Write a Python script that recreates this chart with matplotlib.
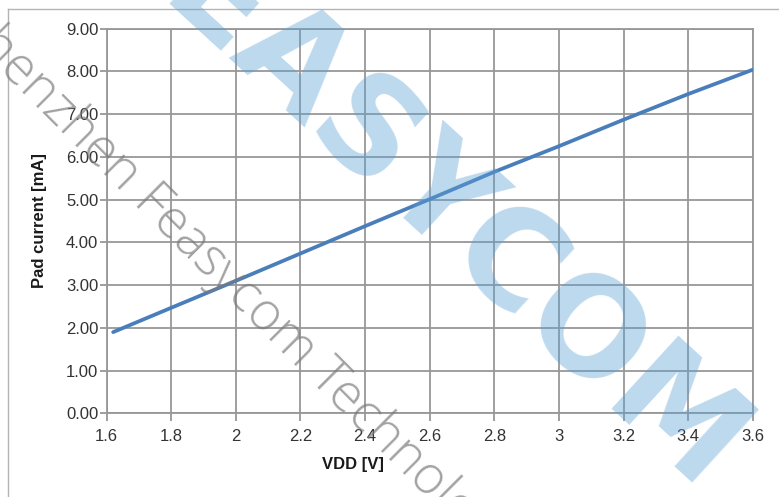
import matplotlib
matplotlib.use('Agg')
import matplotlib.pyplot as plt
from matplotlib.lines import Line2D

# values
vdd = [1.62, 1.8, 2.0, 2.2, 2.4, 2.6, 2.8, 3.0, 3.2, 3.4, 3.6]
current = [1.90, 2.47, 3.10, 3.74, 4.38, 5.01, 5.65, 6.25, 6.87, 7.47, 8.04]
xticks = [1.6, 1.8, 2.0, 2.2, 2.4, 2.6, 2.8, 3.0, 3.2, 3.4, 3.6]
xtick_labels = ['1.6', '1.8', '2', '2.2', '2.4', '2.6', '2.8', '3', '3.2', '3.4', '3.6']
yticks = [0, 1, 2, 3, 4, 5, 6, 7, 8, 9]

W, H = 779, 497
plt.rcParams['font.family'] = ['Liberation Sans', 'DejaVu Sans']

def fx(x):
    return x / W

def fy(y):
    return 1 - y / H

fig = plt.figure(figsize=(W / 100, H / 100), dpi=100)
ax = fig.add_axes([fx(106.7), fy(413.3), (752.7 - 106.7) / W, (413.3 - 28.7) / H])

# outer chart frame (only left and top edges visible)
fig.add_artist(Line2D([fx(8), fx(8)], [fy(9), 0], color='#b4b4b4', lw=1.0))
fig.add_artist(Line2D([fx(8), 1], [fy(9), fy(9)], color='#b4b4b4', lw=1.0))

gridc = '#979797'
ax.plot(vdd, current, color='#4a7ebb', lw=2.7, solid_capstyle='round', zorder=3)

ax.set_xlim(1.6, 3.6)
ax.set_ylim(0, 9)
ax.set_xticks(xticks)
ax.set_xticklabels(xtick_labels)
ax.set_yticks(yticks)
ax.set_yticklabels(['%.2f' % v for v in yticks])
ax.grid(True, color=gridc, lw=1.3)
ax.set_axisbelow(True)
for s in ax.spines.values():
    s.set_color(gridc)
    s.set_linewidth(1.3)
ax.tick_params(axis='both', colors=gridc, labelcolor='#333333', labelsize=12, width=1.3)
ax.tick_params(axis='y', length=5, pad=1)
ax.tick_params(axis='x', length=6, pad=5)

ax.set_xlabel('VDD [V]', fontsize=12, fontweight='bold', color='#1a1a1a')
ax.xaxis.set_label_coords((353 - 106.7) / 646, -(465 - 413.3) / 384.6)
ax.xaxis.label.set_va('center')
ax.set_ylabel('Pad current [mA]', fontsize=12, fontweight='bold', color='#1a1a1a')
ax.yaxis.set_label_coords(-(106.7 - 39) / 646, 0.5)
ax.yaxis.label.set_va('center')

# watermarks
fig.text(fx(393), fy(220), 'FEASYCOM', fontsize=97, fontweight='bold',
         family='DejaVu Sans', color='#5aa0d6', alpha=0.4, rotation=-42.5,
         rotation_mode='anchor', ha='center', va='baseline', zorder=10)
fig.text(fx(131.7), fy(202.7), 'Shenzhen ', fontsize=38, fontweight='light',
         family=['Open Sans', 'DejaVu Sans'], color='#7a7a7a', alpha=0.7,
         rotation=-45, rotation_mode='anchor', ha='right', va='baseline', zorder=11)
fig.text(fx(131.7), fy(202.7), 'Feasycom Technology Co.,Ltd', fontsize=38,
         fontweight='light', family=['Open Sans', 'DejaVu Sans'], color='#7a7a7a',
         alpha=0.7, rotation=-45, rotation_mode='anchor', ha='left', va='baseline',
         zorder=11)

fig.savefig('out.png', dpi=100)
